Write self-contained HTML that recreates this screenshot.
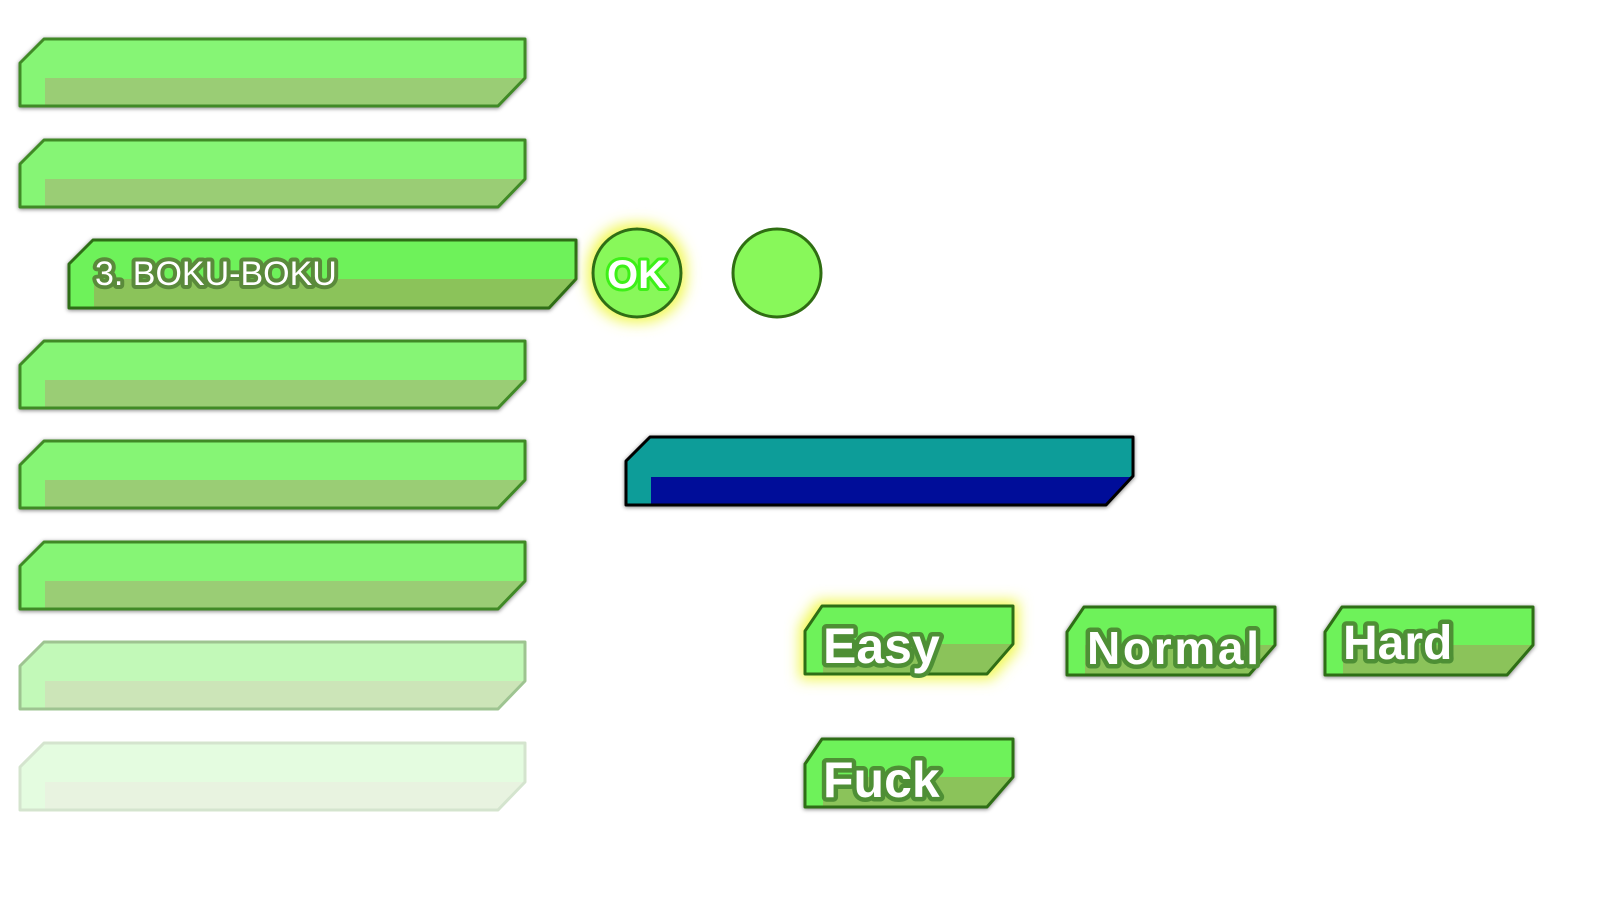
<!DOCTYPE html>
<html><head><meta charset="utf-8"><style>
html,body{margin:0;padding:0;background:#fff;width:1600px;height:900px;overflow:hidden}
text{font-family:"Liberation Sans",sans-serif;}
</style></head><body>
<svg width="1600" height="900" viewBox="0 0 1600 900" xmlns="http://www.w3.org/2000/svg">
<defs>
<filter id="sh" x="-5%" y="-20%" width="110%" height="140%"><feGaussianBlur in="SourceAlpha" stdDeviation="2"/><feOffset dx="0" dy="1"/><feComponentTransfer><feFuncA type="linear" slope="0.5"/></feComponentTransfer><feMerge><feMergeNode/><feMergeNode in="SourceGraphic"/></feMerge></filter>
<filter id="glow" x="-30%" y="-40%" width="160%" height="180%"><feMorphology in="SourceAlpha" operator="dilate" radius="4" result="d"/><feFlood flood-color="#f0f850"/><feComposite operator="in" in2="d"/><feGaussianBlur stdDeviation="7"/><feMerge><feMergeNode/><feMergeNode in="SourceGraphic"/></feMerge></filter>
<clipPath id="bc"><polygon points="0,24 24,0 505,0 505,39 478,67 0,67"/></clipPath>
<clipPath id="ac"><polygon points="0,24 24,0 507,0 507,39 480,68 0,68"/></clipPath>
<clipPath id="sc"><polygon points="0,25 17,0 208,0 208,38 182,68 0,68"/></clipPath>
<g id="bar">
<g clip-path="url(#bc)"><rect width="510" height="70" fill="#86f574"/><rect x="25" y="39" width="485" height="30" fill="#9acd74"/></g>
<polygon points="0,24 24,0 505,0 505,39 478,67 0,67" fill="none" stroke="#3f8a25" stroke-width="3" stroke-linejoin="round"/>
</g>
<g id="sbtn">
<g clip-path="url(#sc)"><rect width="212" height="70" fill="#6ef25a"/><rect x="18" y="38" width="194" height="32" fill="#8bc35a"/></g>
<polygon points="0,25 17,0 208,0 208,38 182,68 0,68" fill="none" stroke="#2f6e12" stroke-width="3" stroke-linejoin="round"/>
</g>
</defs>

<g filter="url(#sh)">
<use href="#bar" x="20" y="39"/>
<use href="#bar" x="20" y="140"/>
<use href="#bar" x="20" y="341"/>
<use href="#bar" x="20" y="441"/>
<use href="#bar" x="20" y="542"/>
</g>
<g opacity="0.5"><use href="#bar" x="20" y="642"/></g>
<g opacity="0.22"><use href="#bar" x="20" y="743"/></g>

<!-- active bar -->
<g transform="translate(69,240)" filter="url(#sh)">
<g clip-path="url(#ac)"><rect width="512" height="70" fill="#6ef25a"/><rect x="25" y="39" width="487" height="31" fill="#8bc35a"/></g>
<polygon points="0,24 24,0 507,0 507,39 480,68 0,68" fill="none" stroke="#2f6e12" stroke-width="3" stroke-linejoin="round"/>
<text x="26" y="45" font-size="34" fill="#fff" stroke="#5a8a3a" stroke-width="8" paint-order="stroke" stroke-linejoin="round">3. BOKU-BOKU</text>
</g>

<!-- circles -->
<g filter="url(#glow)"><circle cx="637" cy="273" r="44" fill="#88f85a" stroke="#2f6e12" stroke-width="3"/></g>
<text x="637" y="288" font-size="40" font-weight="bold" text-anchor="middle" fill="#fff" stroke="#3df018" stroke-width="6" paint-order="stroke" stroke-linejoin="round">OK</text>
<circle cx="777" cy="273" r="44" fill="#88f85a" stroke="#2f6e12" stroke-width="3"/>

<!-- teal bar -->
<g transform="translate(626,437)" filter="url(#sh)">
<g clip-path="url(#ac)"><rect width="512" height="70" fill="#089d99"/><rect x="25" y="40" width="487" height="30" fill="#040a99"/></g>
<polygon points="0,24 24,0 507,0 507,39 480,68 0,68" fill="none" stroke="#000" stroke-width="3" stroke-linejoin="round"/>
</g>

<!-- small buttons -->
<g transform="translate(805,606)">
<g filter="url(#glow)"><use href="#sbtn"/></g>
<text x="18" y="57" font-size="50" font-weight="bold" fill="#fff" stroke="#4e8f35" stroke-width="9" paint-order="stroke" stroke-linejoin="round">Easy</text>
</g>
<g transform="translate(1067,607)">
<g filter="url(#sh)"><use href="#sbtn"/></g>
<text x="20" y="57" font-size="46" font-weight="bold" fill="#fff" stroke="#4e8f35" stroke-width="9" paint-order="stroke" stroke-linejoin="round" textLength="172">Normal</text>
</g>
<g transform="translate(1325,607)">
<g filter="url(#sh)"><use href="#sbtn"/></g>
<text x="18" y="52" font-size="48" font-weight="bold" fill="#fff" stroke="#4e8f35" stroke-width="9" paint-order="stroke" stroke-linejoin="round">Hard</text>
</g>
<g transform="translate(805,739)">
<g filter="url(#sh)"><use href="#sbtn"/></g>
<text x="18" y="58" font-size="50" font-weight="bold" fill="#fff" stroke="#4e8f35" stroke-width="9" paint-order="stroke" stroke-linejoin="round">Fuck</text>
</g>
</svg>
</body></html>
